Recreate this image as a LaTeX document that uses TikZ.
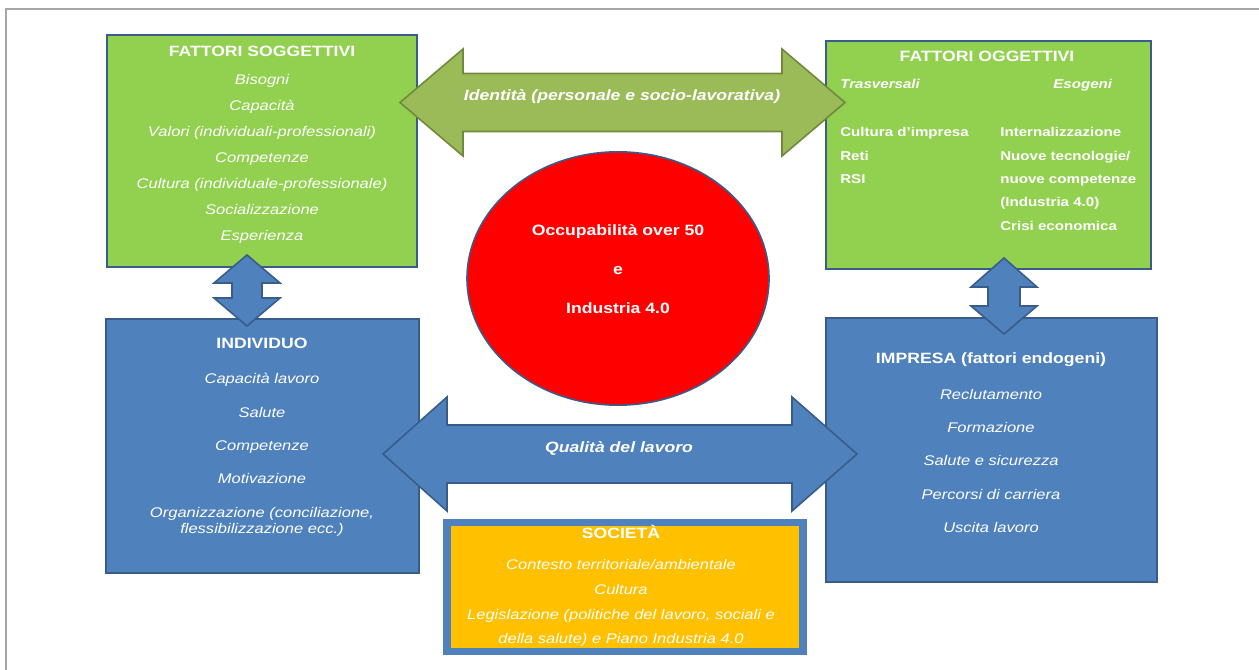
\documentclass[tikz,border=0pt]{standalone}
\usepackage{fontspec}
\setmainfont{Liberation Sans}
\usepackage{tikz}
\usetikzlibrary{shapes}
\usepackage{xcolor}
\definecolor{boxgreen}{HTML}{92D050}
\definecolor{boxblue}{HTML}{4F81BD}
\definecolor{boxedge}{HTML}{385D8A}
\definecolor{boxyellow}{HTML}{FFC000}
\definecolor{arrowgreen}{HTML}{9BBB59}
\definecolor{arrowedge}{HTML}{71893F}
\definecolor{framegray}{HTML}{A6A6A6}
\newcommand{\titlefont}{\fontsize{11.2}{13}\selectfont\bfseries\upshape}
\tikzstyle{greenbox}=[rectangle, draw=boxedge, line width=1.6pt, fill=boxgreen, inner sep=0pt]
\tikzstyle{bluebox}=[rectangle, draw=boxedge, line width=1.6pt, fill=boxblue, inner sep=0pt]
\tikzstyle{boxtext}=[text=white, align=center, inner sep=0pt, xscale=1.18, anchor=north]
\tikzstyle{subtext}=[text=white, align=left, inner sep=0pt, xscale=1.18,
font=\fontsize{9.6}{17.6}\selectfont\bfseries]
\tikzstyle{arrowtext}=[text=white, inner sep=0pt, xscale=1.18, anchor=base,
font=\fontsize{11.2}{13}\selectfont\bfseries\itshape]
\tikzstyle{greenarrow}=[draw=arrowedge, fill=arrowgreen, line width=1.2pt]
\tikzstyle{bluearrow}=[draw=boxedge, fill=boxblue, line width=1.2pt]

\begin{document}
\begin{tikzpicture}[x=0.75pt,y=-0.75pt]
            \useasboundingbox (0,0) rectangle (1259,670);
            \draw[framegray, line width=0.8pt] (6,670) -- (6,9) -- (1259,9);

            % boxes
            \node (fs)[greenbox, minimum width=232.5pt, minimum height=174pt] at (262,151) {};
            \node (fo)[greenbox, minimum width=243.75pt, minimum height=171pt] at (988.5,155) {};
            \node (ind)[bluebox, minimum width=234.75pt, minimum height=190.5pt] at (262.5,446) {};
            \node (imp)[bluebox, minimum width=248.25pt, minimum height=198pt] at (991.5,450) {};
            \node (soc)[rectangle, draw=boxblue, line width=5.5pt, fill=boxyellow,
                minimum width=267pt, minimum height=96.4pt] at (625,587) {};
            \node (occ)[ellipse, draw=boxedge, line width=1.2pt, fill=red,
                minimum width=226.5pt, minimum height=190pt] at (618,278.5) {};

            % block arrows
            \coordinate (idL) at (400,102.5);
            \draw[greenarrow] (idL) -- ++(63,-53.5) -- ++(0,24.5) -- ++(319,0) -- ++(0,-24.5)
                -- ++(63,53.5) -- ++(-63,53.5) -- ++(0,-24.5) -- ++(-319,0) -- ++(0,24.5) -- cycle;
            \coordinate (qlL) at (383,454);
            \draw[bluearrow] (qlL) -- ++(64,-57) -- ++(0,28) -- ++(345,0) -- ++(0,-28)
                -- ++(65,57) -- ++(-65,57) -- ++(0,-28) -- ++(-345,0) -- ++(0,28) -- cycle;
            \coordinate (lvT) at (247,255);
            \draw[bluearrow] (lvT) -- ++(33,28) -- ++(-18,0) -- ++(0,15) -- ++(18,0) -- ++(-33,28)
                -- ++(-33,-28) -- ++(18,0) -- ++(0,-15) -- ++(-18,0) -- cycle;
            \coordinate (rvT) at (1004,258);
            \draw[bluearrow] (rvT) -- ++(33,29) -- ++(-17,0) -- ++(0,19) -- ++(17,0) -- ++(-33,28)
                -- ++(-33,-28) -- ++(17,0) -- ++(0,-19) -- ++(-17,0) -- cycle;

            % texts
            \node (fstxt)[boxtext, font=\fontsize{10.5}{19.5}\selectfont\itshape] at (262,46.3)
                {{\titlefont FATTORI SOGGETTIVI}\\[1.5pt]Bisogni\\Capacità\\Valori (individuali-professionali)\\
                Competenze\\Cultura (individuale-professionale)\\Socializzazione\\Esperienza};
            \node (fotit)[boxtext] at (987,51.3) {\titlefont FATTORI OGGETTIVI};
            \node (fotra)[subtext, anchor=base west] at (840,89) {\itshape Trasversali};
            \node (foeso)[subtext, anchor=base west] at (1053,89) {\itshape Esogeni};
            \node (folist1)[subtext, anchor=north west] at (840,127) {Cultura d’impresa\\Reti\\RSI};
            \node (folist2)[subtext, anchor=north west] at (1000,127)
                {Internalizzazione\\Nuove tecnologie/\\nuove competenze\\(Industria 4.0)\\Crisi economica};
            \node (indtxt)[boxtext, font=\fontsize{10.5}{25}\selectfont\itshape] at (262,337.8)
                {{\titlefont INDIVIDUO}\\[1.5pt]Capacità lavoro\\Salute\\Competenze\\Motivazione\\
                Organizzazione (conciliazione,\\[-13pt]flessibilizzazione ecc.)};
            \node (imptxt)[boxtext, font=\fontsize{10.5}{25}\selectfont\itshape] at (991,352.6)
                {{\titlefont IMPRESA (fattori endogeni)}\\[1.5pt]Reclutamento\\Formazione\\
                Salute e sicurezza\\Percorsi di carriera\\Uscita lavoro};
            \node (soctxt)[boxtext, font=\fontsize{10.5}{18.5}\selectfont\itshape] at (621,525.3)
                {{\titlefont SOCIETÀ}\\[4.7pt]Contesto territoriale/ambientale\\Cultura\\
                Legislazione (politiche del lavoro, sociali e\\della salute) e Piano Industria 4.0};
            \node (occtxt)[boxtext, font=\fontsize{11.2}{29}\selectfont\bfseries] at (618,224.6)
                {Occupabilità over 50\\e\\Industria 4.0};
            \node (idtxt)[arrowtext] at (622,101) {Identità (personale e socio-lavorativa)};
            \node (qltxt)[arrowtext] at (619,452) {Qualità del lavoro};
\end{tikzpicture}
\end{document}
